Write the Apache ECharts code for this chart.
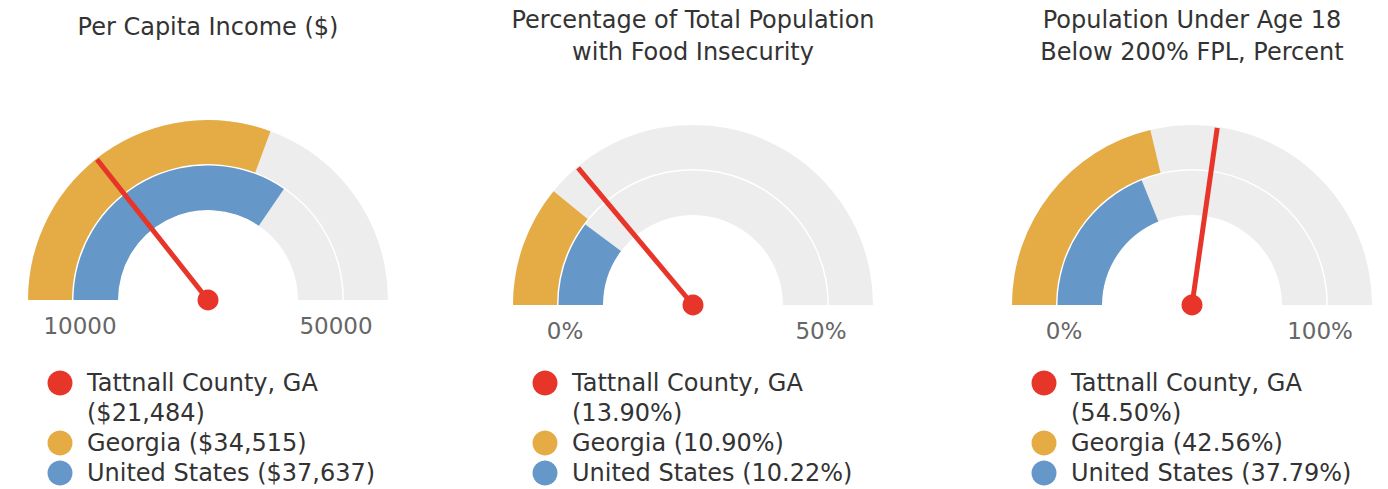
<!DOCTYPE html>
<html>
<head>
<meta charset="utf-8">
<script src="https://cdn.jsdelivr.net/npm/echarts@6/dist/echarts.min.js"></script>
<style>
html,body{margin:0;padding:0;background:#fff;}
#chart{width:1388px;height:489px;}
</style>
</head>
<body>
<div id="chart"></div>
<script>
// ---- Data ----
const titles = [
  "Per Capita Income ($)",
  "Percentage of Total Population\nwith Food Insecurity",
  "Population Under Age 18\nBelow 200% FPL, Percent"
];
const seriesNames = ["Tattnall County, GA", "Georgia", "United States"];
const countyValues = [21484, 13.90, 54.50];
const georgiaValues = [34515, 10.90, 42.56];
const usValues = [37637, 10.22, 37.79];
const axisMins = [10000, 0, 0];
const axisMaxs = [50000, 50, 100];
const minLabels = ["10000", "0%", "0%"];
const maxLabels = ["50000", "50%", "100%"];
const countyLabels = ["($21,484)", "(13.90%)", "(54.50%)"];
const georgiaLabels = ["($34,515)", "(10.90%)", "(42.56%)"];
const usLabels = ["($37,637)", "(10.22%)", "(37.79%)"];

// ---- Layout / style ----
const centers = [[208, 300], [693, 305], [1192, 305]];
const titleTops = [11, 4, 4];
const RED = "#E8352A", ORANGE = "#E5AC45", BLUE = "#6597C8", GRAY = "#EDEDED";
const FONT = "DejaVu Sans";

const series = [];
const title = [];
const graphic = [];

function bandGauge(cx, cy, radius, width, min, max, value, color) {
  return {
    type: 'gauge', z: 2, center: [cx, cy], radius: radius,
    startAngle: 180, endAngle: 0, min: min, max: max,
    progress: { show: true, width: width, itemStyle: { color: color } },
    axisLine: { lineStyle: { width: width, color: [[1, GRAY]] } },
    pointer: { show: false }, anchor: { show: false },
    axisTick: { show: false }, splitLine: { show: false }, axisLabel: { show: false },
    detail: { show: false }, title: { show: false },
    silent: true, animation: false,
    data: [{ value: value }]
  };
}

for (let i = 0; i < 3; i++) {
  const [cx, cy] = centers[i];
  title.push({
    text: titles[i], left: cx, top: titleTops[i], textAlign: 'center', padding: 0,
    textStyle: { fontSize: 24, fontWeight: 'normal', color: '#333', fontFamily: FONT, lineHeight: 32 }
  });
  series.push(bandGauge(cx, cy, 180, 44, axisMins[i], axisMaxs[i], georgiaValues[i], ORANGE));
  series.push(bandGauge(cx, cy, 134.5, 44.5, axisMins[i], axisMaxs[i], usValues[i], BLUE));
  series.push({
    type: 'gauge', z: 10, center: [cx, cy], radius: 180,
    startAngle: 180, endAngle: 0, min: axisMins[i], max: axisMaxs[i],
    axisLine: { show: false }, progress: { show: false },
    axisTick: { show: false }, splitLine: { show: false }, axisLabel: { show: false },
    pointer: { show: true, icon: 'rect', length: 179, width: 5, offsetCenter: [0, 0], itemStyle: { color: RED } },
    anchor: { show: true, showAbove: true, size: 21, itemStyle: { color: RED } },
    detail: { show: false }, title: { show: false },
    silent: true, animation: false,
    data: [{ value: countyValues[i] }]
  });
  // min / max axis labels
  graphic.push({ type: 'text', x: cx - 128, y: cy + 26,
    style: { text: minLabels[i], fontSize: 23, fontFamily: FONT, fill: '#666', align: 'center', verticalAlign: 'middle' } });
  graphic.push({ type: 'text', x: cx + 128, y: cy + 26,
    style: { text: maxLabels[i], fontSize: 23, fontFamily: FONT, fill: '#666', align: 'center', verticalAlign: 'middle' } });
  // legend
  const lx = cx - 148, tx = cx - 121;
  const rows = [
    { y: 383, color: RED, text: seriesNames[0] },
    { y: 413, color: null, text: countyLabels[i] },
    { y: 443, color: ORANGE, text: seriesNames[1] + " " + georgiaLabels[i] },
    { y: 473, color: BLUE, text: seriesNames[2] + " " + usLabels[i] }
  ];
  rows.forEach(r => {
    if (r.color) graphic.push({ type: 'circle', shape: { cx: lx, cy: r.y, r: 12.5 }, style: { fill: r.color } });
    graphic.push({ type: 'text', x: tx, y: r.y,
      style: { text: r.text, fontSize: 24, fontFamily: FONT, fill: '#333', align: 'left', verticalAlign: 'middle' } });
  });
}

const chart = echarts.init(document.getElementById('chart'), null, { renderer: 'svg' });
chart.setOption({ animation: false, title: title, series: series, graphic: graphic });
</script>
</body>
</html>
